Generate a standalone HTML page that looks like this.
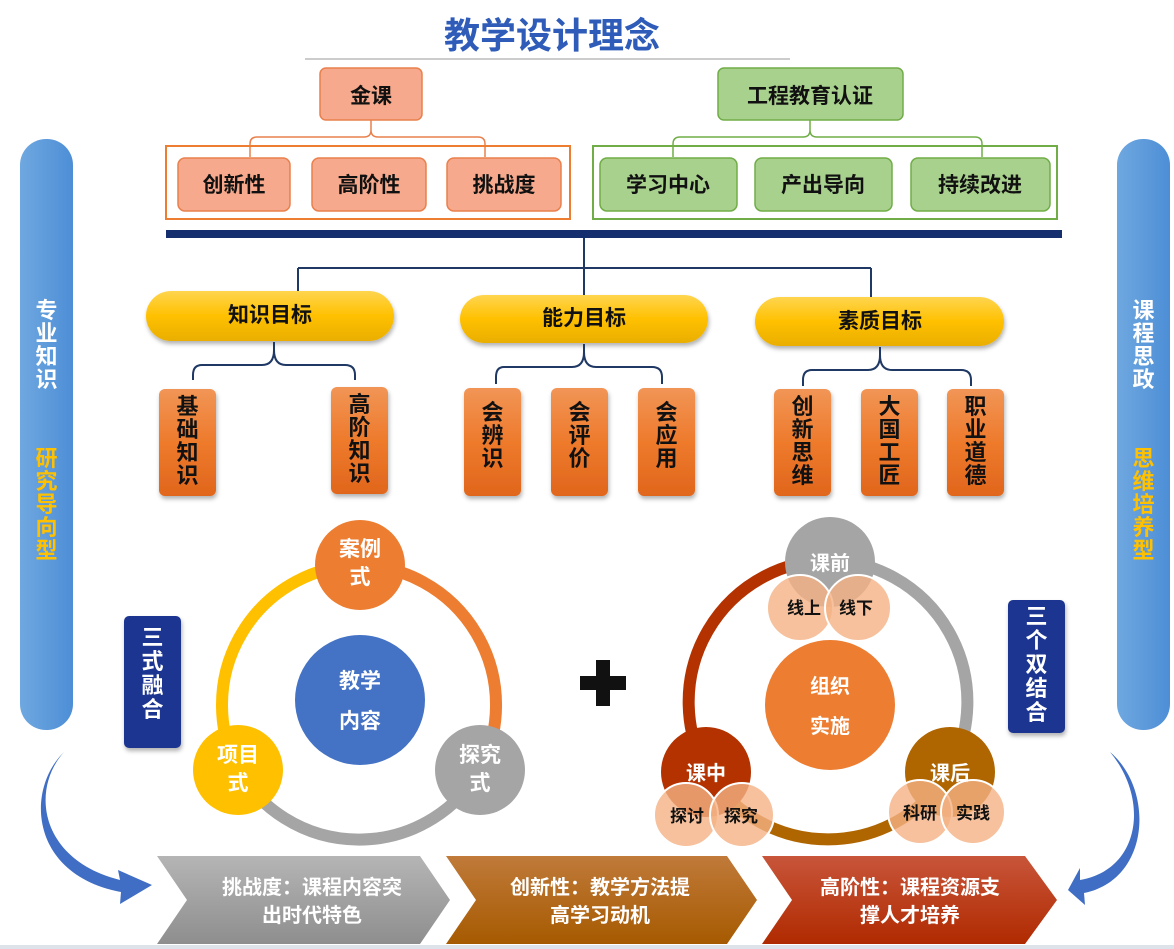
<!DOCTYPE html>
<html><head><meta charset="utf-8"><style>
html,body{margin:0;padding:0;background:#fff;}
svg{display:block;font-family:"Liberation Sans","Noto Sans CJK SC",sans-serif;font-weight:bold;}
</style></head><body>
<svg width="1174" height="949" viewBox="0 0 1174 949" xmlns="http://www.w3.org/2000/svg">
<defs>
<linearGradient id="yel" x1="0" y1="0" x2="0" y2="1"><stop offset="0" stop-color="#FFD54F"/><stop offset="0.5" stop-color="#FFC000"/><stop offset="1" stop-color="#E9AE00"/></linearGradient>
<linearGradient id="org" x1="0" y1="0" x2="0" y2="1"><stop offset="0" stop-color="#F19556"/><stop offset="0.5" stop-color="#EE7A2C"/><stop offset="1" stop-color="#E0661C"/></linearGradient>
<linearGradient id="side" x1="0" y1="0" x2="1" y2="0"><stop offset="0" stop-color="#6FA8E0"/><stop offset="1" stop-color="#4D8ED6"/></linearGradient>
<linearGradient id="g1" x1="0" y1="0" x2="0" y2="1"><stop offset="0" stop-color="#B5B5B5"/><stop offset="1" stop-color="#8E8E8E"/></linearGradient>
<linearGradient id="g2" x1="0" y1="0" x2="0" y2="1"><stop offset="0" stop-color="#C07A3A"/><stop offset="1" stop-color="#A65A00"/></linearGradient>
<linearGradient id="g3" x1="0" y1="0" x2="0" y2="1"><stop offset="0" stop-color="#C8553A"/><stop offset="1" stop-color="#B02A00"/></linearGradient>
<filter id="sh" x="-20%" y="-20%" width="140%" height="150%"><feDropShadow dx="1" dy="3" stdDeviation="2" flood-color="#000" flood-opacity="0.3"/></filter>
</defs>

<!-- title -->
<text x="552" y="48" text-anchor="middle" font-size="36" fill="#2E5CB8">教学设计理念</text>
<line x1="305" y1="59" x2="790" y2="59" stroke="#999" stroke-width="1"/>

<!-- 金课 -->
<rect x="320" y="68" width="102" height="52" rx="6" fill="#F6A98C" stroke="#E9804D" stroke-width="1.5"/>
<text x="371" y="103" text-anchor="middle" font-size="21" fill="#111">金课</text>
<path d="M371 120 V130 Q371 137 364 137 H257 Q250 137 250 144 V157 M371 130 Q371 137 378 137 H478 Q485 137 485 144 V157" fill="none" stroke="#E9804D" stroke-width="1.5"/>
<rect x="166" y="146" width="404" height="73" fill="none" stroke="#ED7D31" stroke-width="2"/>
<g fill="#F6A98C" stroke="#E9804D" stroke-width="1.5">
<rect x="178" y="158" width="112" height="53" rx="7"/><rect x="312" y="158" width="114" height="53" rx="7"/><rect x="447" y="158" width="114" height="53" rx="7"/></g>
<g font-size="21" fill="#111" text-anchor="middle"><text x="234" y="192">创新性</text><text x="369" y="192">高阶性</text><text x="504" y="192">挑战度</text></g>

<!-- 工程教育认证 -->
<rect x="718" y="68" width="185" height="52" rx="6" fill="#A9D18E" stroke="#70AD47" stroke-width="1.5"/>
<text x="810" y="103" text-anchor="middle" font-size="21" fill="#111">工程教育认证</text>
<path d="M810 120 V130 Q810 137 803 137 H680 Q673 137 673 144 V157 M810 130 Q810 137 817 137 H975 Q982 137 982 144 V157" fill="none" stroke="#70AD47" stroke-width="1.5"/>
<rect x="593" y="146" width="464" height="73" fill="none" stroke="#70AD47" stroke-width="2"/>
<g fill="#A9D18E" stroke="#70AD47" stroke-width="1.5">
<rect x="600" y="158" width="137" height="53" rx="7"/><rect x="755" y="158" width="137" height="53" rx="7"/><rect x="911" y="158" width="139" height="53" rx="7"/></g>
<g font-size="21" fill="#111" text-anchor="middle"><text x="668" y="192">学习中心</text><text x="823" y="192">产出导向</text><text x="980" y="192">持续改进</text></g>

<!-- navy bar -->
<rect x="166" y="230" width="896" height="8" fill="#142E6E"/>
<path d="M584 238 V268 M298 268 H871 M298 268 V292 M584 268 V296 M871 268 V298" fill="none" stroke="#1F3864" stroke-width="2"/>

<!-- yellow pills -->
<g filter="url(#sh)">
<rect x="146" y="291" width="248" height="50" rx="25" fill="url(#yel)"/>
<rect x="460" y="295" width="248" height="48" rx="24" fill="url(#yel)"/>
<rect x="755" y="297" width="249" height="49" rx="24.5" fill="url(#yel)"/>
</g>
<g font-size="21" fill="#111" text-anchor="middle"><text x="270" y="322">知识目标</text><text x="584" y="325">能力目标</text><text x="880" y="328">素质目标</text></g>

<!-- brackets -->
<g fill="none" stroke="#1F3864" stroke-width="2">
<path d="M274 342 V350 Q274 365 262 365 H202 Q193 365 193 375 V380 M274 350 Q274 365 286 365 H345 Q355 365 355 375 V380"/>
<path d="M584 344 V352 Q584 367 572 367 H504 Q496 367 496 377 V384 M584 352 Q584 367 596 367 H652 Q662 367 662 377 V384"/>
<path d="M880 347 V355 Q880 370 868 370 H812 Q803 370 803 380 V386 M880 355 Q880 370 892 370 H961 Q971 370 971 380 V386"/>
</g>

<!-- orange vertical boxes -->
<g filter="url(#sh)" fill="url(#org)">
<rect x="159" y="389" width="57" height="107" rx="6"/><rect x="331" y="387" width="57" height="107" rx="6"/>
<rect x="464" y="388" width="57" height="108" rx="6"/><rect x="551" y="388" width="57" height="108" rx="6"/><rect x="638" y="388" width="57" height="108" rx="6"/>
<rect x="774" y="389" width="57" height="107" rx="6"/><rect x="861" y="389" width="57" height="107" rx="6"/><rect x="947" y="389" width="57" height="107" rx="6"/>
</g>
<g font-size="22" fill="#111" text-anchor="middle">
<text x="187.5" y="414">基<tspan x="187.5" dy="23">础</tspan><tspan x="187.5" dy="23">知</tspan><tspan x="187.5" dy="23">识</tspan></text>
<text x="359.5" y="412">高<tspan x="359.5" dy="23">阶</tspan><tspan x="359.5" dy="23">知</tspan><tspan x="359.5" dy="23">识</tspan></text>
<text x="492.5" y="420">会<tspan x="492.5" dy="23">辨</tspan><tspan x="492.5" dy="23">识</tspan></text>
<text x="579.5" y="420">会<tspan x="579.5" dy="23">评</tspan><tspan x="579.5" dy="23">价</tspan></text>
<text x="666.5" y="420">会<tspan x="666.5" dy="23">应</tspan><tspan x="666.5" dy="23">用</tspan></text>
<text x="802.5" y="414">创<tspan x="802.5" dy="23">新</tspan><tspan x="802.5" dy="23">思</tspan><tspan x="802.5" dy="23">维</tspan></text>
<text x="889.5" y="414">大<tspan x="889.5" dy="23">国</tspan><tspan x="889.5" dy="23">工</tspan><tspan x="889.5" dy="23">匠</tspan></text>
<text x="975.5" y="414">职<tspan x="975.5" dy="23">业</tspan><tspan x="975.5" dy="23">道</tspan><tspan x="975.5" dy="23">德</tspan></text>
</g>

<!-- side bars -->
<rect x="20" y="139" width="53" height="591" rx="26" fill="url(#side)"/>
<rect x="1117" y="139" width="53" height="591" rx="26" fill="url(#side)"/>
<g font-size="22" text-anchor="middle">
<text x="46.5" y="318" fill="#fff">专<tspan x="46.5" dy="23">业</tspan><tspan x="46.5" dy="23">知</tspan><tspan x="46.5" dy="23">识</tspan></text>
<text x="46.5" y="466" fill="#FFC000">研<tspan x="46.5" dy="23">究</tspan><tspan x="46.5" dy="23">导</tspan><tspan x="46.5" dy="23">向</tspan><tspan x="46.5" dy="23">型</tspan></text>
<text x="1143.5" y="318" fill="#fff">课<tspan x="1143.5" dy="23">程</tspan><tspan x="1143.5" dy="23">思</tspan><tspan x="1143.5" dy="23">政</tspan></text>
<text x="1143.5" y="466" fill="#FFC000">思<tspan x="1143.5" dy="23">维</tspan><tspan x="1143.5" dy="23">培</tspan><tspan x="1143.5" dy="23">养</tspan><tspan x="1143.5" dy="23">型</tspan></text>
</g>

<!-- navy label boxes -->
<rect x="124" y="616" width="57" height="132" rx="5" fill="#1F3591" filter="url(#sh)"/>
<text x="152.5" y="645" font-size="22" fill="#fff" text-anchor="middle">三<tspan x="152.5" dy="24">式</tspan><tspan x="152.5" dy="24">融</tspan><tspan x="152.5" dy="24">合</tspan></text>
<rect x="1008" y="600" width="57" height="133" rx="5" fill="#1F3591" filter="url(#sh)"/>
<text x="1036.5" y="624" font-size="22" fill="#fff" text-anchor="middle">三<tspan x="1036.5" dy="24">个</tspan><tspan x="1036.5" dy="24">双</tspan><tspan x="1036.5" dy="24">结</tspan><tspan x="1036.5" dy="24">合</tspan></text>

<!-- left cycle -->
<g fill="none" stroke-width="12">
<path d="M360 565 A140 140 0 0 1 480 770" stroke="#ED7D31"/>
<path d="M480 770 A140 140 0 0 1 238 770" stroke="#A5A5A5"/>
<path d="M238 770 A140 140 0 0 1 360 565" stroke="#FFC000"/>
</g>
<circle cx="360" cy="565" r="45" fill="#ED7D31"/>
<circle cx="238" cy="770" r="45" fill="#FFC000"/>
<circle cx="480" cy="770" r="45" fill="#A5A5A5"/>
<circle cx="360" cy="700" r="65" fill="#4472C4"/>
<g font-size="21" fill="#fff" text-anchor="middle">
<text x="360" y="556">案例</text><text x="360" y="584">式</text>
<text x="238" y="762">项目</text><text x="238" y="790">式</text>
<text x="480" y="762">探究</text><text x="480" y="790">式</text>
<text x="360" y="688">教学</text><text x="360" y="728">内容</text>
</g>

<!-- plus -->
<path d="M596 660 h14 v16 h16 v14 h-16 v16 h-14 v-16 h-16 v-14 h16 z" fill="#111"/>

<!-- right cycle -->
<g fill="none" stroke-width="12">
<path d="M830 560 A142 142 0 0 0 706 770" stroke="#B33200"/>
<path d="M830 560 A142 142 0 0 1 950 770" stroke="#A5A5A5"/>
<path d="M706 770 A142 142 0 0 0 950 770" stroke="#AF6500"/>
</g>
<circle cx="830" cy="562" r="45" fill="#A5A5A5"/>
<circle cx="706" cy="772" r="45" fill="#B33200"/>
<circle cx="950" cy="772" r="45" fill="#AF6500"/>
<circle cx="830" cy="705" r="65" fill="#ED7D31"/>
<g font-size="20" fill="#fff" text-anchor="middle">
<text x="830" y="570">课前</text><text x="706" y="780">课中</text><text x="950" y="780">课后</text>
<text x="830" y="693">组织</text><text x="830" y="733">实施</text>
</g>
<g fill="#F4B183" fill-opacity="0.8" stroke="#fff" stroke-width="2">
<circle cx="800" cy="608" r="33"/><circle cx="858" cy="608" r="33"/>
<circle cx="686" cy="815" r="32"/><circle cx="742" cy="815" r="32"/>
<circle cx="920" cy="812" r="32"/><circle cx="973" cy="812" r="32"/>
</g>
<g font-size="17" fill="#111" text-anchor="middle">
<text x="804" y="614">线上</text><text x="856" y="614">线下</text>
<text x="687" y="822">探讨</text><text x="741" y="822">探究</text>
<text x="920" y="819">科研</text><text x="973" y="819">实践</text>
</g>

<!-- curved arrows -->
<path d="M64 752 C30 790 40 860 120 880 L118 870 L152 885 L120 904 L121 892 C30 875 25 790 64 752 Z" fill="#3F6EC4"/>
<path d="M1110 752 C1150 800 1140 870 1080 880 L1080 868 L1068 890 L1085 905 L1084 893 C1150 880 1155 790 1110 752 Z" fill="#3F6EC4"/>

<!-- chevrons -->
<path d="M157 856 H420 L450 900 L420 944 H157 L187 900 Z" fill="url(#g1)"/>
<path d="M446 856 H727 L757 900 L727 944 H446 L476 900 Z" fill="url(#g2)"/>
<path d="M762 856 H1025 L1057 900 L1025 944 H762 L792 900 Z" fill="url(#g3)"/>
<g font-size="20" fill="#fff" text-anchor="middle">
<text x="312" y="894">挑战度：课程内容突</text><text x="312" y="922">出时代特色</text>
<text x="600" y="894">创新性：教学方法提</text><text x="600" y="922">高学习动机</text>
<text x="910" y="894">高阶性：课程资源支</text><text x="910" y="922">撑人才培养</text>
</g>
<rect x="0" y="945" width="1174" height="4" fill="#DDE3E8"/>
</svg>
</body></html>
